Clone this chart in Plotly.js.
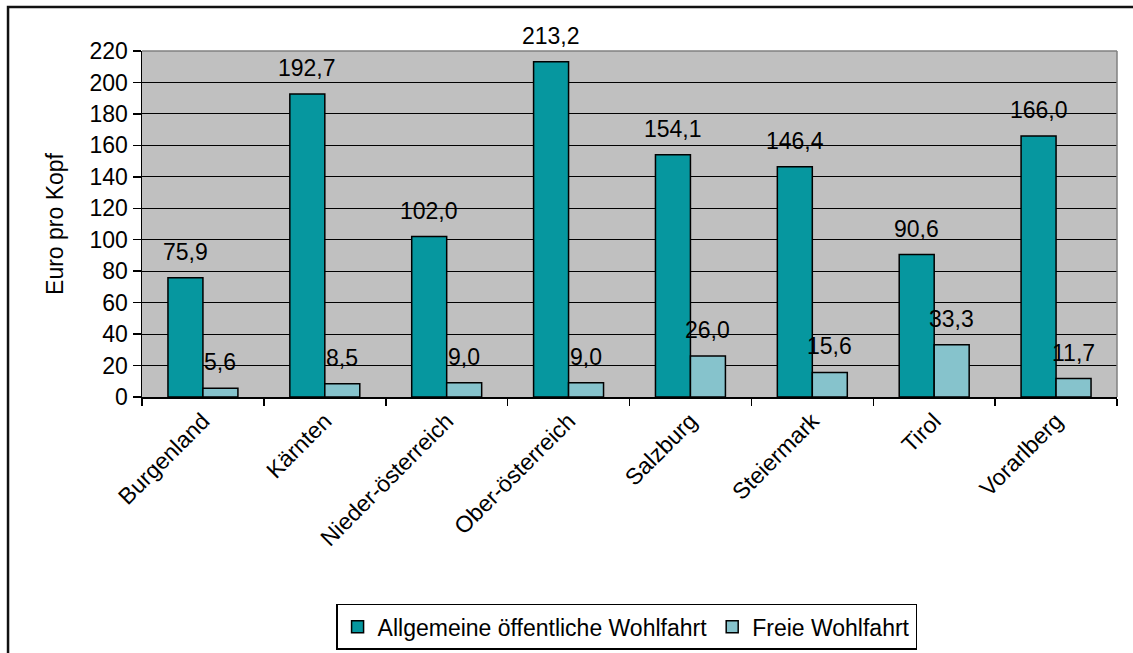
<!DOCTYPE html>
<html>
<head>
<meta charset="utf-8">
<script src="https://cdn.plot.ly/plotly-3.0.1.min.js"></script>
<style>
html,body{margin:0;padding:0;background:#fff;overflow:hidden;}
#chart{width:1133px;height:653px;}
</style>
</head>
<body>
<div id="chart"></div>
<script>
var categories = ["Burgenland", "Kärnten", "Nieder-österreich", "Ober-österreich", "Salzburg", "Steiermark", "Tirol", "Vorarlberg"];
var allgemeine = [75.9, 192.7, 102.0, 213.2, 154.1, 146.4, 90.6, 166.0];
var freie = [5.6, 8.5, 9.0, 9.0, 26.0, 15.6, 33.3, 11.7];
var seriesNames = ["Allgemeine öffentliche Wohlfahrt", "Freie Wohlfahrt"];
var yTicks = [0, 20, 40, 60, 80, 100, 120, 140, 160, 180, 200, 220];

var FONT = "Arial, 'Liberation Sans', sans-serif";
var FS = 23;
function fmt(v){ return v.toFixed(1).replace('.', ','); }

var traces = [
  {type:'bar', name:seriesNames[0], x:categories, y:allgemeine,
   marker:{color:'#06979F', line:{color:'#000', width:1.5}}, hoverinfo:'none'},
  {type:'bar', name:seriesNames[1], x:categories, y:freie,
   marker:{color:'#86C3CC', line:{color:'#000', width:1.5}}, hoverinfo:'none'}
];

var annotations = [];
var BW = 35;
categories.forEach(function(c, i){
  annotations.push({x:c, y:allgemeine[i], xref:'x', yref:'y', text:fmt(allgemeine[i]),
    showarrow:false, xshift:-BW/2, yshift:26, yanchor:'middle', font:{family:FONT, size:FS, color:'#000'}});
  annotations.push({x:c, y:freie[i], xref:'x', yref:'y', text:fmt(freie[i]),
    showarrow:false, xshift:BW/2, yshift:26, yanchor:'middle', font:{family:FONT, size:FS, color:'#000'}});
});

var layout = {
  width:1133, height:653,
  margin:{l:142, r:16, t:51, b:256},
  paper_bgcolor:'#fff', plot_bgcolor:'#C0C0C0',
  font:{family:FONT, size:FS, color:'#000'},
  barmode:'group', bargap:0.426, bargroupgap:0,
  showlegend:true,
  legend:{orientation:'h', x:0.497, xanchor:'center', yref:'container', y:0.005, yanchor:'bottom',
    bgcolor:'#fff', bordercolor:'#000', borderwidth:1.5,
    font:{family:FONT, size:FS, color:'#000'}, itemwidth:30, tracegroupgap:0},
  xaxis:{type:'category', showgrid:false, tickangle:-45, tickson:'boundaries',
    ticks:'outside', ticklen:7, tickwidth:1.5, tickcolor:'#000',
    showline:true, linecolor:'#000', linewidth:1.5, automargin:false,
    tickfont:{family:FONT, size:FS, color:'#000'}},
  yaxis:{range:[0,220], tickvals:yTicks, ticktext:yTicks.map(String),
    showgrid:true, gridcolor:'#000', gridwidth:1, zeroline:false,
    ticks:'outside', ticklen:8, tickwidth:1.5, tickcolor:'#000',
    showline:true, linecolor:'#000', linewidth:1.5, automargin:false,
    tickfont:{family:FONT, size:FS, color:'#000'},
    title:{text:'Euro pro Kopf', standoff:19, font:{family:FONT, size:FS, color:'#000'}}},
  annotations:annotations,
  shapes:[
    {type:'line', xref:'paper', yref:'paper', x0:0, x1:1, y0:1, y1:1, line:{color:'#808080', width:1.5}},
    {type:'line', xref:'paper', yref:'paper', x0:1, x1:1, y0:0, y1:1, line:{color:'#808080', width:1.5}},
    {type:'rect', xref:'paper', yref:'paper', x0:-0.1374, x1:1.06, y0:-0.8, y1:1.127,
      line:{color:'#111', width:2.5}, fillcolor:'rgba(0,0,0,0)', layer:'above'}
  ]
};

Plotly.newPlot('chart', traces, layout, {staticPlot:true, displayModeBar:false});
</script>
</body>
</html>
